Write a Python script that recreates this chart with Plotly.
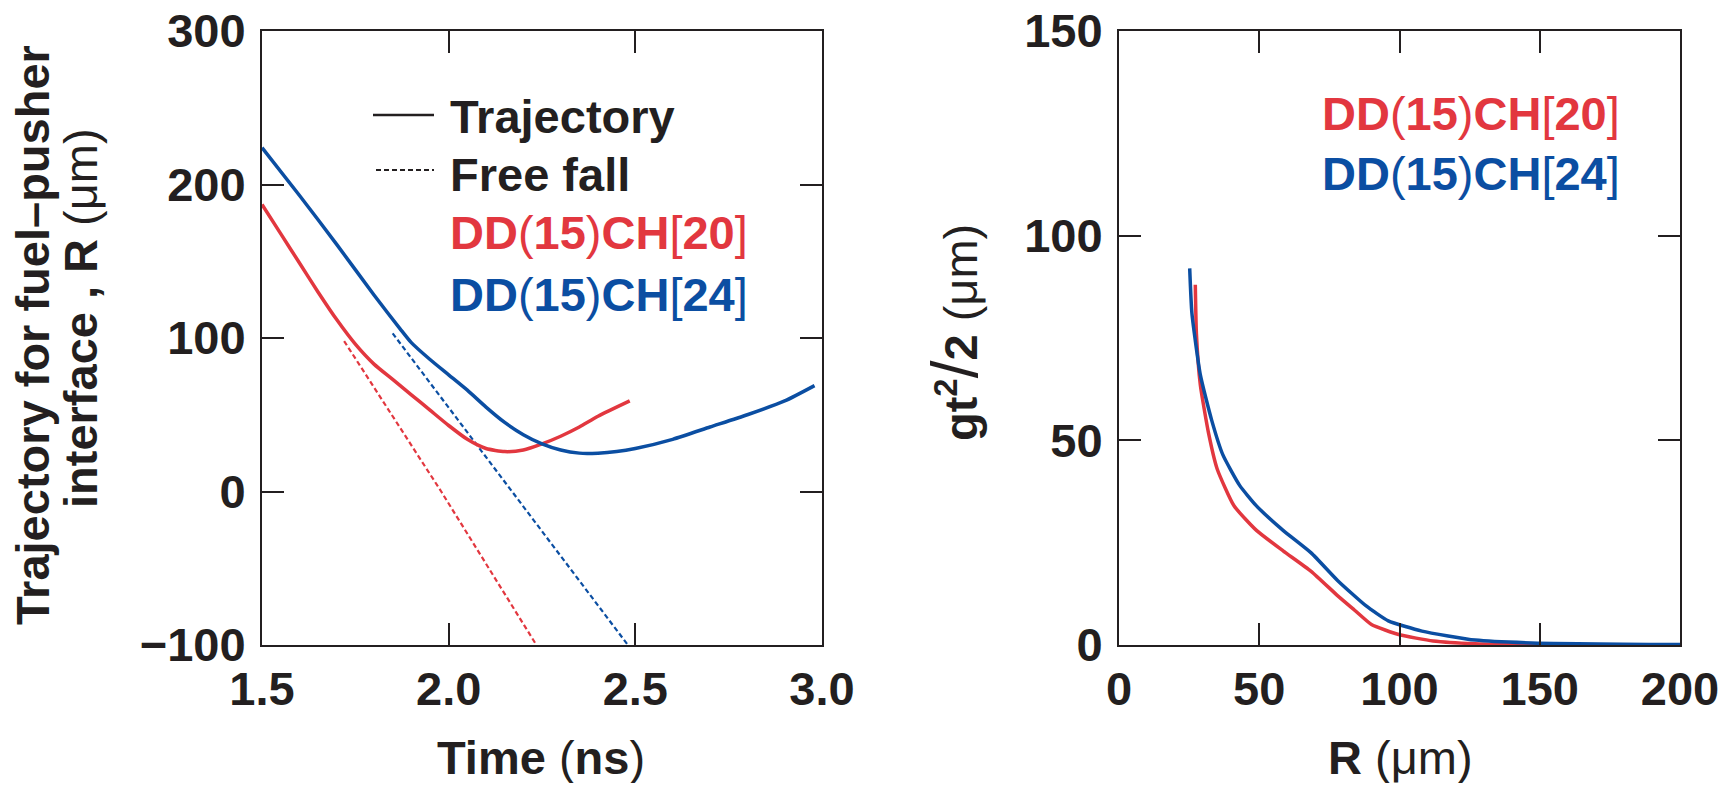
import plotly.graph_objects as go

# left panel: trajectories R(t)
t_red = [1.50, 1.55, 1.60, 1.65, 1.70, 1.75, 1.80, 1.85, 1.90, 1.95, 2.00, 2.05, 2.10, 2.15, 2.20, 2.25, 2.30, 2.35, 2.40, 2.485]
r_red = [187, 168, 149, 130, 112, 96, 83, 73, 63, 53, 43, 34, 28, 26, 27, 31, 36, 42, 49, 59]

t_blue = [1.50, 1.60, 1.70, 1.80, 1.87, 1.90, 1.95, 2.00, 2.05, 2.10, 2.15, 2.20, 2.25, 2.30, 2.35, 2.40, 2.45, 2.50, 2.60, 2.70, 2.80, 2.90, 2.98]
r_blue = [224, 193, 161, 128, 106, 97, 86, 76, 66, 55, 45, 37, 31, 27, 25, 25, 26, 28, 34, 42, 50, 59, 69]

# free-fall lines
t_ff_red = [1.72, 1.98, 2.235]
r_ff_red = [98, 0, -100]
t_ff_blue = [1.85, 2.17, 2.48]
r_ff_blue = [103, 0, -100]

# right panel: gt^2/2 vs R
R_red = [27.2, 27.6, 29.0, 32.0, 35.0, 41.0, 49.0, 58.5, 68.5, 78.0, 84.0, 90.0, 100.0, 112.0, 127.0, 147.0, 200.0]
g_red = [88, 76, 63.5, 51.5, 43, 34, 28, 23, 18, 12, 8.5, 5, 2.5, 1, 0.3, 0, 0]
R_blue = [25.2, 26.0, 29.0, 33.0, 37.0, 43.0, 49.0, 58.5, 68.5, 78.0, 88.0, 96.0, 108.0, 127.0, 147.0, 200.0]
g_blue = [92, 81, 66, 55, 46.5, 39, 34, 28, 22.5, 15.7, 9.6, 5.9, 3.4, 1.2, 0.5, 0.1]

xticks_left = [1.5, 2.0, 2.5, 3.0]
yticks_left = [-100, 0, 100, 200, 300]
xticks_right = [0, 50, 100, 150, 200]
yticks_right = [0, 50, 100, 150]

FONT = "Liberation Sans, Arial, sans-serif"
INK = "#231f20"
RED = "#e2373f"
BLUE = "#0b4ea2"
# the page body keeps an 8px margin, so the figure is a bit smaller than the window
OFF = 8
W, H = 1734 - 2 * OFF, 791 - 2 * OFF
FS = 47


def px(x):
    return (x - OFF) / W


def py(y):
    return 1 - (y - OFF) / H


def thin(s, size=None):
    st = "font-weight:normal"
    if size:
        st += ";font-size:%dpx" % size
    return "<span style='" + st + "'>" + s + "</span>"


def dd(n):
    return "DD" + thin("(") + "15" + thin(")") + "CH" + thin("[") + n + thin("]")


fig = go.Figure()

fig.add_trace(go.Scatter(x=t_ff_red, y=r_ff_red, mode="lines", xaxis="x", yaxis="y",
                         line=dict(color=RED, width=2.2, dash="5px,3px")))
fig.add_trace(go.Scatter(x=t_ff_blue, y=r_ff_blue, mode="lines", xaxis="x", yaxis="y",
                         line=dict(color=BLUE, width=2.2, dash="5px,3px")))
fig.add_trace(go.Scatter(x=t_red, y=r_red, mode="lines", xaxis="x", yaxis="y",
                         line=dict(color=RED, width=3.5, shape="spline", smoothing=0.6)))
fig.add_trace(go.Scatter(x=t_blue, y=r_blue, mode="lines", xaxis="x", yaxis="y",
                         line=dict(color=BLUE, width=3.5, shape="spline", smoothing=0.6)))

fig.add_trace(go.Scatter(x=R_red, y=g_red, mode="lines", xaxis="x2", yaxis="y2",
                         line=dict(color=RED, width=3.5, shape="spline", smoothing=0.5)))
fig.add_trace(go.Scatter(x=R_blue, y=g_blue, mode="lines", xaxis="x2", yaxis="y2",
                         line=dict(color=BLUE, width=3.5, shape="spline", smoothing=0.5)))

axis_style = dict(showline=True, linecolor=INK, linewidth=2, mirror="ticks",
                  ticks="inside", ticklen=22, tickwidth=2, tickcolor=INK,
                  showgrid=False, zeroline=False, automargin=False,
                  ticklabeloverflow="allow",
                  tickfont=dict(family=FONT, size=FS, color=INK, weight="bold"))

fig.update_layout(
    width=W, height=H,
    margin=dict(l=0, r=0, t=0, b=0, pad=0),
    paper_bgcolor="white", plot_bgcolor="white",
    showlegend=False,
    xaxis=dict(domain=[px(262), px(822)], range=[1.5, 3.0], tickvals=xticks_left,
               tickformat=".1f", anchor="y", ticklabelstandoff=2, **axis_style),
    yaxis=dict(domain=[py(645), py(31)], range=[-100, 300], tickvals=yticks_left,
               anchor="x", ticklabelstandoff=5, **axis_style),
    xaxis2=dict(domain=[px(1119), px(1680)], range=[0, 200], tickvals=xticks_right,
                anchor="y2", ticklabelstandoff=2, **axis_style),
    yaxis2=dict(domain=[py(645), py(31)], range=[0, 150], tickvals=yticks_right,
                anchor="x2", ticklabelstandoff=5, **axis_style),
)


def note(text, x, y, color=INK, xanchor="center", angle=0):
    fig.add_annotation(text=text, x=px(x), y=py(y), xref="paper", yref="paper",
                       xanchor=xanchor, yanchor="middle", showarrow=False, textangle=angle,
                       font=dict(family=FONT, size=FS, color=color, weight="bold"))


# axis titles
note("Time " + thin("(") + "ns" + thin(")"), 541, 757)
note("R " + thin("(μm)"), 1400, 757)
note("Trajectory for fuel–pusher", 33, 335, angle=-90)
note("interface , R " + thin("(μm)"), 80, 318, angle=-90)
note("gt<sup>2</sup>" + thin("/", 64) + "2 " + thin("(μm)"), 955, 332, angle=-90)

# key in the left panel
fig.add_shape(type="line", xref="paper", yref="paper", x0=px(373), x1=px(434),
              y0=py(115), y1=py(115), line=dict(color=INK, width=2.5))
fig.add_shape(type="line", xref="paper", yref="paper", x0=px(376), x1=px(434),
              y0=py(170), y1=py(170), line=dict(color=INK, width=2, dash="5px,3px"))
note("Trajectory", 448, 116, xanchor="left")
note("Free fall", 448, 174, xanchor="left")
note(dd("20"), 448, 232, color=RED, xanchor="left")
note(dd("24"), 448, 294, color=BLUE, xanchor="left")

# labels in the right panel
note(dd("20"), 1622, 114, color=RED, xanchor="right")
note(dd("24"), 1622, 173, color=BLUE, xanchor="right")

fig.write_html("out.html")
